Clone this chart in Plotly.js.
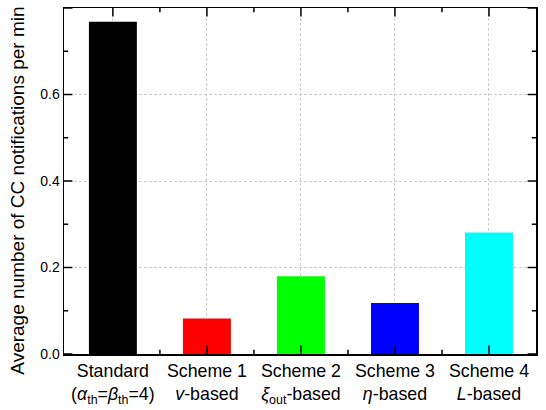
<!DOCTYPE html>
<html><head><meta charset="utf-8">
<script src="https://cdn.plot.ly/plotly-3.0.1.min.js"></script>
<style>body{margin:0}#c{width:546px;height:410px}</style>
</head><body><div id="c"></div>
<script>
const categories = ["Standard<br>(<i>α</i><sub>th</sub>=<i>β</i><sub>th</sub>=4)",
  "Scheme 1<br><i>v</i>-based",
  "Scheme 2<br><i>ξ</i><sub>out</sub>-based",
  "Scheme 3<br><i>η</i>-based",
  "Scheme 4<br><i>L</i>-based"];
const values = [0.768, 0.082, 0.180, 0.118, 0.281];
const colors = ["#000000", "#ff0000", "#00ff00", "#0000ff", "#00ffff"];
const yTicks = [0.0, 0.2, 0.4, 0.6, 0.8];
const yTickText = ["0.0", "0.2", "0.4", "0.6", "0.8"];
const yTitle = "Average number of CC notifications per min";
const xRange = [-0.52, 4.5];

const xIdx = categories.map((_, i) => i);
const xMinor = xIdx.slice(1).map(i => i - 0.5);
const yMinor = yTicks.slice(1).map((v, i) => (v + yTicks[i]) / 2);
const yMax = yTicks[yTicks.length - 1];

const bars = {type: "bar", x: xIdx, y: values, width: 0.51,
  marker: {color: colors, line: {width: 0}}, hoverinfo: "none"};

function tickTrace(xs, ys, symbol, size) {
  return {type: "scatter", mode: "markers", x: xs, y: ys, cliponaxis: true, hoverinfo: "none",
    marker: {symbol: symbol, size: size, color: "#000", line: {color: "#000", width: 1.5}}};
}
const rep = (arr, v) => arr.map(() => v);
const tickTraces = [
  tickTrace(xIdx.concat(xIdx), rep(xIdx, 0).concat(rep(xIdx, yMax)), "line-ns-open", 12),
  tickTrace(xMinor.concat(xMinor), rep(xMinor, 0).concat(rep(xMinor, yMax)), "line-ns-open", 6),
  tickTrace(rep(yTicks, xRange[0]).concat(rep(yTicks, xRange[1])), yTicks.concat(yTicks), "line-ew-open", 12),
  tickTrace(rep(yMinor, xRange[0]).concat(rep(yMinor, xRange[1])), yMinor.concat(yMinor), "line-ew-open", 6)
];

const layout = {
  width: 546, height: 410,
  margin: {l: 64, r: 10, t: 8, b: 56},
  paper_bgcolor: "#fff", plot_bgcolor: "#fff",
  showlegend: false,
  xaxis: {range: xRange, tickmode: "array", tickvals: xIdx, ticktext: categories,
    showline: true, linecolor: "#000", linewidth: 1.5, mirror: true, ticks: "",
    showgrid: true, gridcolor: "#cccccc", griddash: "3px,2px", gridwidth: 1, zeroline: false,
    tickfont: {family: "Liberation Sans, Arial", size: 17.8, color: "#000"}},
  yaxis: {range: [0, yMax], tickmode: "array", tickvals: yTicks, ticktext: yTickText,
    showline: true, linecolor: "#000", linewidth: 1.5, mirror: true, ticks: "",
    showgrid: true, gridcolor: "#cccccc", griddash: "3px,2px", gridwidth: 1, zeroline: false,
    tickfont: {family: "Liberation Sans, Arial", size: 14, color: "#000"}},
  annotations: [{text: yTitle, textangle: -90, showarrow: false,
    xref: "paper", yref: "paper", x: -0.0975, y: 0.472, xanchor: "center", yanchor: "middle",
    font: {family: "Liberation Sans, Arial", size: 19, color: "#000"}}]
};
Plotly.newPlot("c", [bars].concat(tickTraces), layout, {displayModeBar: false, staticPlot: true});
</script></body></html>
